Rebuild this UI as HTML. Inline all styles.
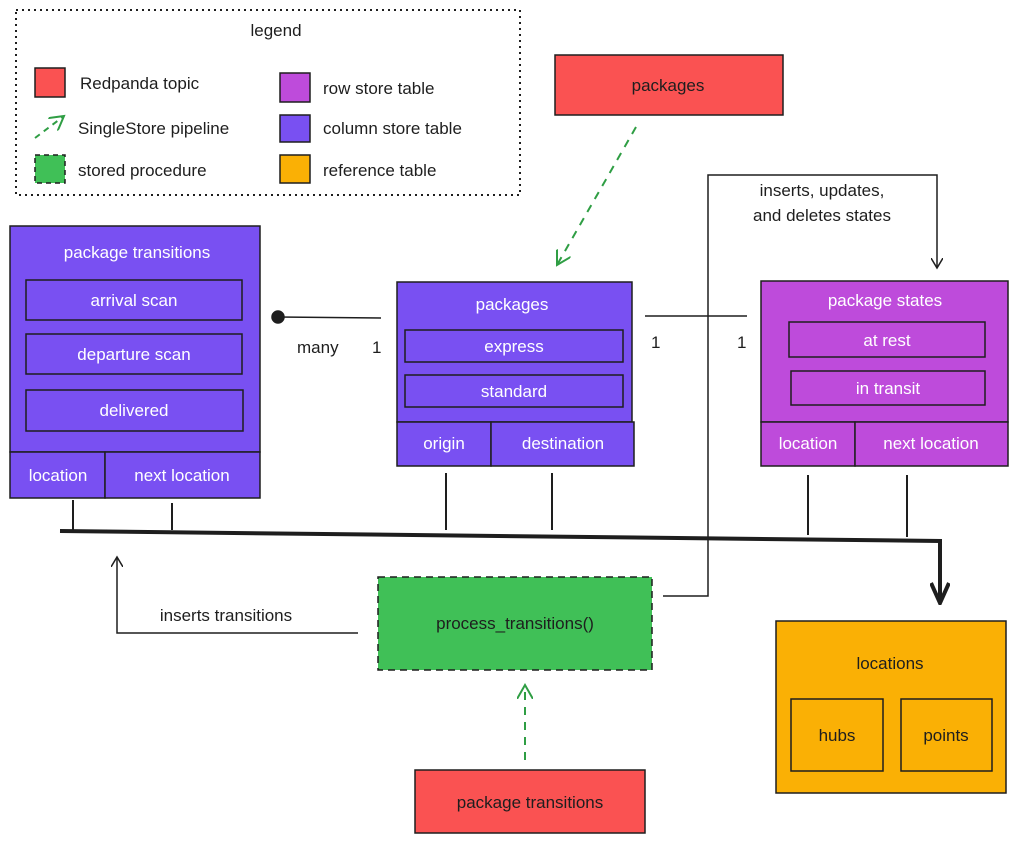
<!DOCTYPE html>
<html><head><meta charset="utf-8"><style>
html,body{margin:0;padding:0;background:#fff;}
svg{display:block;font-family:"Liberation Sans",sans-serif;}
text{font-size:17px;}
.w{fill:#fff;}
.k{fill:#1e1e1e;}
</style></head><body>
<svg width="1019" height="844" viewBox="0 0 1019 844" xmlns="http://www.w3.org/2000/svg">
<defs>
<marker id="ah" markerWidth="12" markerHeight="12" refX="10" refY="6" orient="auto" markerUnits="userSpaceOnUse">
<path d="M0,0 L10,6 L0,12" fill="none" stroke="#1e1e1e" stroke-width="1.5"/></marker>
<marker id="ahg" markerWidth="16" markerHeight="16" refX="14" refY="8" orient="auto" markerUnits="userSpaceOnUse">
<path d="M0,0 L14,8 L0,16" fill="none" stroke="#2f9e44" stroke-width="2"/></marker>
<marker id="ahb" markerWidth="20" markerHeight="24" refX="10" refY="22" orient="0" markerUnits="userSpaceOnUse">
<path d="M1,2 L10,22 L19,2" fill="none" stroke="#1e1e1e" stroke-width="4"/></marker>
</defs>
<g stroke="#1e1e1e" stroke-width="1.5">
<!-- legend -->
<rect x="16" y="10" width="504" height="185" fill="none" stroke-dasharray="2,4" stroke-width="2"/>
<rect x="35" y="68" width="30" height="29" fill="#fa5252"/>
<rect x="35" y="155" width="30" height="28" fill="#40c057" stroke-dasharray="5,4"/>
<rect x="280" y="73" width="30" height="29" fill="#be4bdb"/>
<rect x="280" y="115" width="30" height="27" fill="#7950f2"/>
<rect x="280" y="155" width="30" height="28" fill="#fab005"/>
<line x1="35" y1="138" x2="64" y2="116" stroke="#2f9e44" stroke-dasharray="6,5" stroke-width="2" marker-end="url(#ahg)"/>
<!-- packages red -->
<rect x="555" y="55" width="228" height="60" fill="#fa5252"/>
<line x1="636" y1="127" x2="557" y2="265" stroke="#2f9e44" stroke-dasharray="8,7" stroke-width="2" marker-end="url(#ahg)"/>
<!-- package transitions table -->
<rect x="10" y="226" width="250" height="226" fill="#7950f2"/>
<rect x="26" y="280" width="216" height="40" fill="#7950f2"/>
<rect x="26" y="334" width="216" height="40" fill="#7950f2"/>
<rect x="26" y="390" width="217" height="41" fill="#7950f2"/>
<rect x="10" y="452" width="95" height="46" fill="#7950f2"/>
<rect x="105" y="452" width="155" height="46" fill="#7950f2"/>
<!-- packages table -->
<rect x="397" y="282" width="235" height="140" fill="#7950f2"/>
<rect x="405" y="330" width="218" height="32" fill="#7950f2"/>
<rect x="405" y="375" width="218" height="32" fill="#7950f2"/>
<rect x="397" y="422" width="94" height="44" fill="#7950f2"/>
<rect x="491" y="422" width="143" height="44" fill="#7950f2"/>
<!-- package states -->
<rect x="761" y="281" width="247" height="141" fill="#be4bdb"/>
<rect x="789" y="322" width="196" height="35" fill="#be4bdb"/>
<rect x="791" y="371" width="194" height="34" fill="#be4bdb"/>
<rect x="761" y="422" width="94" height="44" fill="#be4bdb"/>
<rect x="855" y="422" width="153" height="44" fill="#be4bdb"/>
<!-- relations -->
<line x1="278" y1="317" x2="381" y2="318"/>
<circle cx="278" cy="317" r="6" fill="#1e1e1e"/>
<line x1="645" y1="316" x2="747" y2="316"/>
<!-- bus -->
<g stroke-width="2">
<line x1="73" y1="500" x2="73" y2="530"/><line x1="172" y1="503" x2="172" y2="530"/>
<line x1="446" y1="473" x2="446" y2="530"/><line x1="552" y1="473" x2="552" y2="530"/>
<line x1="808" y1="475" x2="808" y2="535"/><line x1="907" y1="475" x2="907" y2="537"/>
</g>
<polyline points="60,531 940,541 940,603" fill="none" stroke-width="4" marker-end="url(#ahb)"/>
<!-- process -->
<rect x="378" y="577" width="274" height="93" fill="#40c057" stroke-dasharray="7,5"/>
<polyline points="358,633 117,633 117,557" fill="none" marker-end="url(#ah)"/>
<polyline points="663,596 708,596 708,175 937,175 937,268" fill="none" marker-end="url(#ah)"/>
<rect x="415" y="770" width="230" height="63" fill="#fa5252"/>
<line x1="525" y1="760" x2="525" y2="685" stroke="#2f9e44" stroke-dasharray="8,7" stroke-width="2" marker-end="url(#ahg)"/>
<!-- locations -->
<rect x="776" y="621" width="230" height="172" fill="#fab005"/>
<rect x="791" y="699" width="92" height="72" fill="#fab005"/>
<rect x="901" y="699" width="91" height="72" fill="#fab005"/>
</g>
<g class="k">
<text x="276" y="36" text-anchor="middle">legend</text>
<text x="80" y="89">Redpanda topic</text>
<text x="78" y="134">SingleStore pipeline</text>
<text x="78" y="176">stored procedure</text>
<text x="323" y="94">row store table</text>
<text x="323" y="134">column store table</text>
<text x="323" y="176">reference table</text>
<text x="668" y="91" text-anchor="middle">packages</text>
<text x="297" y="353" font-size="15">many</text>
<text x="372" y="353" font-size="15">1</text>
<text x="651" y="348" font-size="15">1</text>
<text x="737" y="348" font-size="15">1</text>
<text x="515" y="629" text-anchor="middle">process_transitions()</text>
<text x="226" y="621" text-anchor="middle">inserts transitions</text>
<text x="822" y="196" text-anchor="middle">inserts, updates,</text>
<text x="822" y="221" text-anchor="middle">and deletes states</text>
<text x="530" y="808" text-anchor="middle">package transitions</text>
<text x="890" y="669" text-anchor="middle">locations</text>
<text x="837" y="741" text-anchor="middle">hubs</text>
<text x="946" y="741" text-anchor="middle">points</text>
</g>
<g class="w" text-anchor="middle">
<text x="137" y="258">package transitions</text>
<text x="134" y="306">arrival scan</text>
<text x="134" y="360">departure scan</text>
<text x="134" y="416">delivered</text>
<text x="58" y="481">location</text>
<text x="182" y="481">next location</text>
<text x="512" y="310">packages</text>
<text x="514" y="352">express</text>
<text x="514" y="397">standard</text>
<text x="444" y="449">origin</text>
<text x="563" y="449">destination</text>
<text x="885" y="306">package states</text>
<text x="887" y="346">at rest</text>
<text x="888" y="394">in transit</text>
<text x="808" y="449">location</text>
<text x="931" y="449">next location</text>
</g>
</svg>
</body></html>
